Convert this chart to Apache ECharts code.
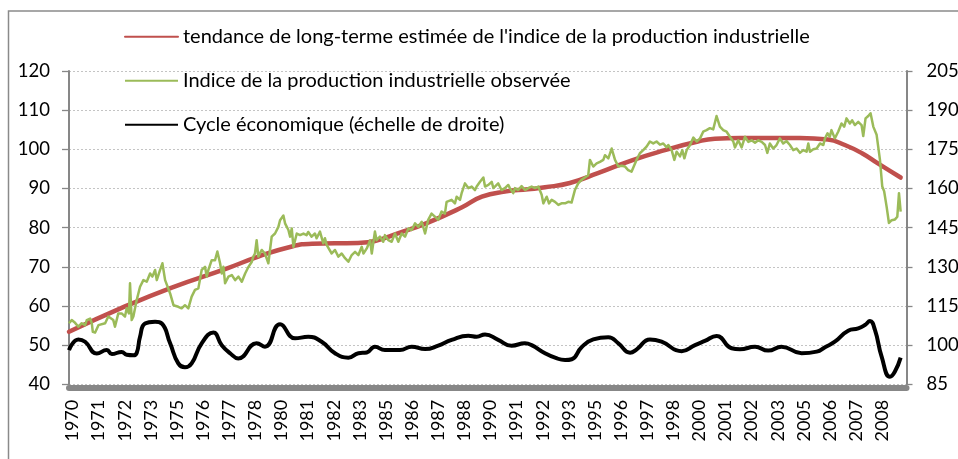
<!DOCTYPE html>
<html><head><meta charset="utf-8">
<script src="https://cdn.jsdelivr.net/npm/echarts@6/dist/echarts.min.js"></script>
<style>html,body{margin:0;padding:0;background:#fff}#c{width:958px;height:459px}</style>
</head><body><div id="c"></div>
<script>
// x-axis tick labels (one every 15 months starting Jan 1970)
const yearLabels = ['1970','1971','1972','1973','1975','1976','1977','1978','1980','1981','1982','1983','1985','1986','1987','1988','1990','1991','1992','1993','1995','1996','1997','1998','2000','2001','2002','2003','2005','2006','2007','2008'];

const seriesNames = [
  "tendance de long-terme estimée de l'indice de la production industrielle",
  "Indice de la production industrielle observée",
  "Cycle économique (échelle de droite)"
];

// Long-term trend (left scale), time in decimal years
const trendT = [1969.83,1972.35,1974.75,1977.40,1978.89,1980.50,1981.46,1983.66,1984.47,1985.60,1987.01,1988.64,1989.59,1990.69,1991.79,1992.61,1993.80,1995.14,1996.77,1998.35,1999.93,2000.74,2001.94,2004.81,2006.15,2006.96,2007.78,2008.54,2009.63];
const trendV = [53.4,59.5,64.7,69.6,72.6,75.2,75.9,76.1,76.6,78.6,81.3,85.2,87.9,89.2,89.8,90.3,91.4,93.9,97.2,99.8,102.0,102.7,102.9,102.9,102.5,101.1,99.0,96.4,92.8];

// Observed industrial production index (left scale)
const obsT = [1969.83,1969.96,1970.12,1970.28,1970.44,1970.60,1970.68,1970.84,1970.92,1970.97,1971.08,1971.24,1971.56,1971.71,1971.95,1972.03,1972.19,1972.35,1972.51,1972.59,1972.70,1972.75,1972.83,1972.91,1973.07,1973.23,1973.39,1973.55,1973.71,1973.82,1973.95,1974.03,1974.19,1974.30,1974.43,1974.67,1974.83,1975.06,1975.22,1975.38,1975.54,1975.70,1975.86,1976.02,1976.18,1976.34,1976.42,1976.50,1976.66,1976.82,1976.93,1977.06,1977.14,1977.22,1977.30,1977.46,1977.62,1977.78,1977.94,1978.10,1978.26,1978.42,1978.58,1978.65,1978.73,1978.81,1978.89,1979.05,1979.21,1979.37,1979.45,1979.53,1979.69,1979.85,1979.93,1980.09,1980.17,1980.33,1980.41,1980.49,1980.57,1980.65,1980.73,1980.89,1981.05,1981.20,1981.28,1981.44,1981.60,1981.68,1981.84,1982.00,1982.08,1982.16,1982.24,1982.40,1982.56,1982.72,1982.88,1983.04,1983.20,1983.36,1983.52,1983.68,1983.84,1983.92,1984.08,1984.24,1984.32,1984.47,1984.55,1984.71,1984.87,1984.95,1985.11,1985.27,1985.43,1985.59,1985.75,1985.91,1986.07,1986.23,1986.39,1986.55,1986.71,1986.87,1987.02,1987.18,1987.34,1987.50,1987.66,1987.82,1987.90,1987.98,1988.14,1988.30,1988.38,1988.54,1988.62,1988.78,1988.94,1989.10,1989.26,1989.34,1989.50,1989.66,1989.74,1989.90,1990.06,1990.14,1990.21,1990.37,1990.53,1990.69,1990.85,1990.93,1991.09,1991.17,1991.33,1991.49,1991.65,1991.81,1991.97,1992.13,1992.29,1992.45,1992.53,1992.69,1992.80,1992.93,1993.09,1993.25,1993.40,1993.57,1993.72,1993.88,1994.04,1994.20,1994.36,1994.52,1994.68,1994.76,1994.92,1995.08,1995.24,1995.40,1995.48,1995.64,1995.80,1995.96,1996.12,1996.28,1996.44,1996.59,1996.75,1996.83,1996.99,1997.15,1997.31,1997.47,1997.63,1997.79,1997.95,1998.11,1998.27,1998.43,1998.51,1998.67,1998.80,1998.91,1999.07,1999.18,1999.28,1999.39,1999.55,1999.71,1999.87,2000.03,2000.18,2000.34,2000.50,2000.66,2000.82,2000.98,2001.14,2001.30,2001.46,2001.62,2001.70,2001.86,2002.02,2002.18,2002.34,2002.50,2002.66,2002.82,2002.98,2003.14,2003.25,2003.37,2003.53,2003.69,2003.85,2004.01,2004.17,2004.33,2004.49,2004.65,2004.81,2004.97,2005.13,2005.21,2005.29,2005.45,2005.61,2005.77,2005.93,2006.01,2006.13,2006.24,2006.32,2006.48,2006.64,2006.80,2006.93,2007.04,2007.20,2007.31,2007.44,2007.60,2007.76,2007.84,2007.95,2008.08,2008.19,2008.32,2008.48,2008.64,2008.75,2008.84,2008.96,2009.07,2009.20,2009.36,2009.47,2009.55,2009.63];
const obsV = [55.6,56.4,55.7,54.7,55.6,55.1,56.4,56.8,55.6,53.4,53.2,55.1,55.6,57.3,56.4,54.7,58.1,58.1,57.3,59.4,58.1,65.8,56.4,57.3,61.5,64.9,66.6,66.2,68.3,67.5,69.2,66.6,69.2,70.9,66.6,63.2,60.2,59.8,59.4,60.2,59.4,62.4,64.1,64.5,69.2,70.0,67.5,69.2,71.7,71.7,73.9,70.9,68.3,70.0,65.8,67.5,67.9,66.6,67.5,66.2,68.3,70.0,71.3,72.6,73.4,76.8,72.6,74.3,73.4,70.9,74.3,77.7,78.5,80.2,81.9,83.1,81.1,79.4,77.7,79.8,75.1,76.8,78.5,78.1,78.5,78.1,78.9,77.7,78.5,77.3,79.0,76.0,77.3,75.6,76.0,73.4,74.3,72.6,73.4,72.2,71.3,73.0,73.8,73.0,75.1,73.4,74.7,76.8,73.4,79.0,76.8,77.7,76.4,78.1,76.8,76.4,78.5,76.4,78.5,77.7,79.8,79.4,81.1,80.2,81.5,78.5,82.0,83.6,82.8,82.0,84.1,83.6,86.6,86.2,87.1,86.2,87.9,87.1,88.8,91.3,90.1,90.5,89.6,90.5,91.7,92.8,90.5,90.9,91.7,90.1,89.6,91.3,89.6,90.1,90.9,90.1,88.8,90.1,89.6,90.6,89.6,90.1,90.5,90.1,90.5,88.4,86.2,87.9,86.2,87.1,86.6,85.8,86.2,86.2,86.6,86.4,89.6,91.3,92.2,92.8,93.4,97.3,95.6,96.4,96.8,97.3,98.5,97.7,100.2,97.3,95.6,95.8,95.6,94.7,94.3,94.0,97.3,99.0,99.8,100.7,102.0,101.5,102.0,101.2,101.5,100.5,101.1,99.8,97.3,99.4,98.2,99.8,97.7,99.8,101.1,103.0,102.0,102.8,104.5,104.9,105.4,105.1,108.5,105.8,104.9,104.5,103.2,102.0,100.5,102.3,100.5,103.2,101.9,102.3,101.7,102.3,101.9,101.1,99.1,101.5,100.2,101.1,102.8,101.5,102.1,101.1,99.8,100.2,99.1,99.8,99.4,101.5,99.4,100.0,100.2,101.5,101.1,102.8,104.1,103.2,104.9,102.8,104.5,106.6,105.8,107.9,106.6,107.4,106.2,107.0,106.2,103.4,107.9,108.5,109.2,105.8,103.7,97.3,90.5,89.3,85.3,81.2,81.9,82.1,82.8,88.8,84.1];

// Business cycle (right scale)
const cycleT = [1969.83,1970.28,1970.60,1971.16,1971.64,1971.88,1972.35,1972.59,1972.91,1973.07,1973.23,1973.47,1973.95,1974.27,1974.67,1975.06,1975.38,1975.70,1976.18,1976.74,1977.14,1977.54,1977.93,1978.81,1979.21,1979.93,1980.65,1981.28,1981.92,1982.56,1983.20,1983.68,1984.08,1984.47,1984.95,1985.67,1986.23,1986.87,1987.50,1988.14,1988.94,1989.34,1989.74,1990.37,1991.01,1991.65,1991.97,1992.61,1993.09,1993.57,1993.89,1994.36,1994.92,1995.64,1996.12,1996.68,1997.00,1997.63,1998.19,1999.15,1999.79,2000.26,2000.82,2001.54,2001.94,2002.66,2003.29,2003.93,2004.89,2005.61,2006.01,2006.48,2007.12,2007.60,2007.92,2008.16,2008.40,2008.72,2009.12,2009.35,2009.63];
const cycleV = [98.1,102.2,101.3,96.8,98.1,96.6,97.4,96.3,96.1,97.0,103.2,108.3,109.0,108.3,100.7,93.0,91.5,93.0,100.7,104.8,100.0,96.9,94.9,100.7,99.4,108.0,102.6,103.2,101.3,96.9,95.2,96.9,97.2,99.4,98.1,98.1,99.4,98.5,99.8,102.0,103.6,103.2,104.1,102.0,99.8,100.7,100.0,96.9,95.2,94.3,94.6,99.2,102.2,103.0,100.7,97.1,98.4,102.2,101.3,97.7,100.0,101.6,103.5,98.8,98.4,99.4,97.9,99.4,96.9,97.5,99.2,101.3,105.5,106.4,107.7,109.2,105.8,95.6,87.9,89.8,95.2];

const leftTicks = [40,50,60,70,80,90,100,110,120];
const rightTicks = [85,100,115,130,145,160,175,190,205];

const zip = (t, v) => t.map((x, i) => [x, v[i]]);
const labelPos = yearLabels.map((y, k) => 1970 + 1.25 * k);
const FONT = 'Lato';

const chart = echarts.init(document.getElementById('c'), null, {renderer: 'canvas'});
chart.setOption({
  animation: false,
  backgroundColor: '#fff',
  textStyle: {fontFamily: FONT},
  graphic: [{
    type: 'rect', silent: true, z: -10,
    shape: {x: 8.5, y: 11, width: 1200, height: 900},
    style: {fill: 'none', stroke: '#8a8a8a', lineWidth: 1.5}
  }],
  grid: {left: 69, right: 51.5, top: 71, bottom: 74.7, outerBoundsMode: 'none', containLabel: false},
  legend: {
    orient: 'vertical', left: 124, top: 26.7, padding: 0,
    itemWidth: 53, itemHeight: 2, itemGap: 24,
    itemStyle: {opacity: 0},
    textStyle: {fontFamily: FONT, fontSize: 20, color: '#000'},
    data: seriesNames
  },
  xAxis: {
    type: 'value', min: 1969.83, max: 2009.91, offset: 3.5,
    axisLine: {show: true, lineStyle: {color: '#878787', width: 6}},
    axisTick: {show: false},
    splitLine: {show: false},
    axisLabel: {
      customValues: labelPos, rotate: 90, margin: 12,
      fontFamily: FONT, fontSize: 18, color: '#000',
      formatter: v => yearLabels[Math.round((v - 1970) / 1.25)]
    }
  },
  yAxis: [{
    type: 'value', position: 'left', min: 40, max: 120,
    axisLine: {show: true, lineStyle: {color: '#878787', width: 2}},
    axisTick: {show: true, length: 7, customValues: leftTicks, lineStyle: {color: '#878787', width: 1.3}},
    axisLabel: {customValues: leftTicks, margin: 19, fontFamily: FONT, fontSize: 18.5, color: '#000'},
    splitLine: {show: true, lineStyle: {color: '#c4c4c4', width: 1, type: [2, 2]}}
  }, {
    type: 'value', position: 'right', min: 85, max: 205,
    axisLine: {show: true, lineStyle: {color: '#878787', width: 2}},
    axisTick: {show: true, length: 6, customValues: rightTicks, lineStyle: {color: '#878787', width: 1.3}},
    axisLabel: {customValues: rightTicks, margin: 20, fontFamily: FONT, fontSize: 18.5, color: '#000'},
    splitLine: {show: false}
  }],
  series: [{
    name: seriesNames[0], type: 'line', yAxisIndex: 0,
    data: zip(trendT, trendV), smooth: 0.5, symbol: 'none',
    lineStyle: {color: '#C0504D', width: 4.5, cap: 'round'}, itemStyle: {color: '#C0504D'}, z: 2
  }, {
    name: seriesNames[1], type: 'line', yAxisIndex: 0,
    data: zip(obsT, obsV), symbol: 'none',
    lineStyle: {color: '#9BBB59', width: 2.5, join: 'round'}, itemStyle: {color: '#9BBB59'}, z: 3
  }, {
    name: seriesNames[2], type: 'line', yAxisIndex: 1,
    data: zip(cycleT, cycleV), smooth: 0.5, symbol: 'none',
    lineStyle: {color: '#000000', width: 4, join: 'round'}, itemStyle: {color: '#000000'}, z: 4
  }]
});
</script>
</body></html>
